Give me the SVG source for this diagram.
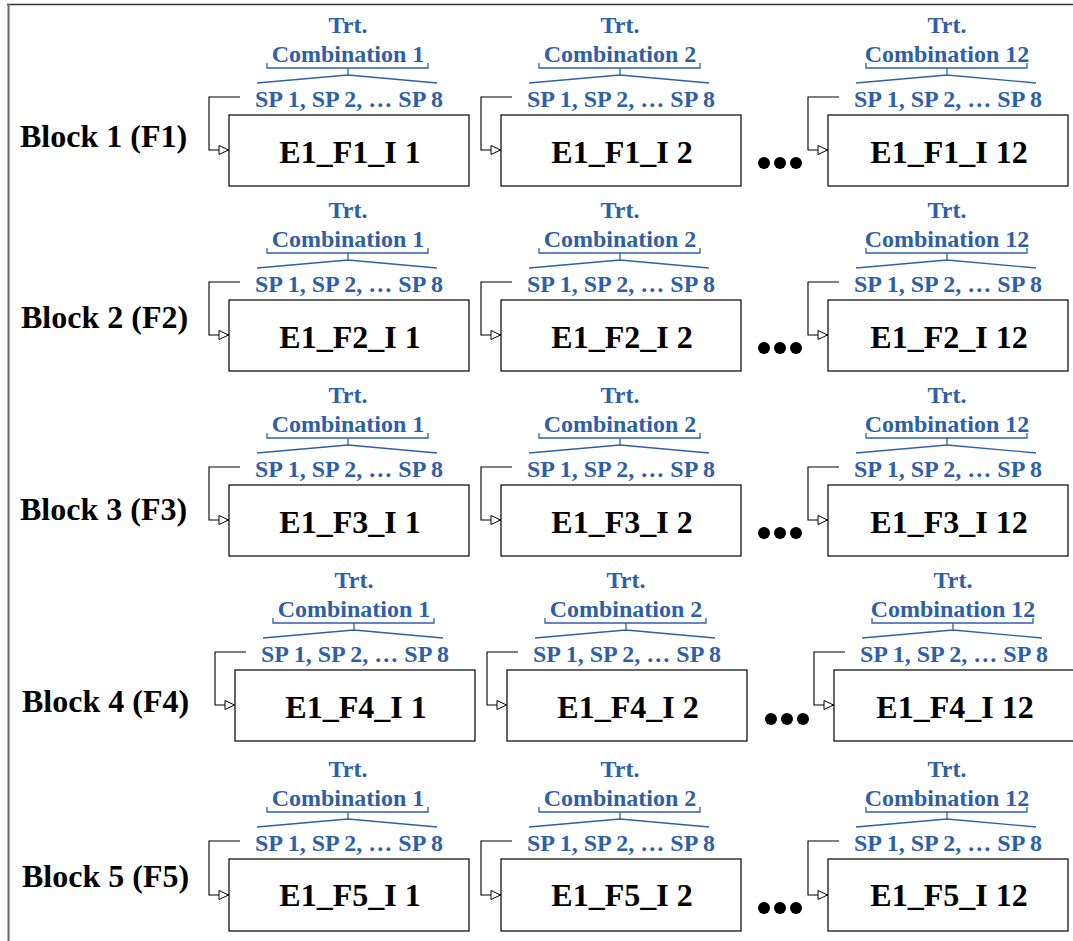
<svg xmlns="http://www.w3.org/2000/svg" width="1073" height="941" viewBox="0 0 1073 941">
<style>
.box{fill:#fff;stroke:#000;stroke-width:1.2}
.bt{font-family:"Liberation Serif","Times New Roman",serif;font-weight:bold;font-size:32px;fill:#000;text-anchor:middle}
.bl{font-family:"Liberation Serif","Times New Roman",serif;font-weight:bold;font-size:32px;fill:#000}
.lb{font-family:"Liberation Serif","Times New Roman",serif;font-weight:bold;font-size:24px;fill:#2f5fa8;text-anchor:middle}
.br{fill:none;stroke:#2f5fa8;stroke-width:1.3}
.cn{fill:none;stroke:#000;stroke-width:1.1}
</style>
<defs>
<marker id="arr" markerUnits="userSpaceOnUse" markerWidth="13" markerHeight="11" refX="11" refY="5" orient="auto">
<path d="M1,0.5 L10.5,5 L1,9.5 Z" fill="#fff" stroke="#000" stroke-width="1"/>
</marker>
<g id="lbl">
<path class="br" d="M38,-52 V-47 H199 V-52 M119,-47 V-40 M28,-32 L119,-40 L208,-32"/>
</g>
</defs>
<g id="frame">
<line x1="7" y1="4.5" x2="1073" y2="4.5" stroke="#333" stroke-width="1.5"/>
<line x1="8.5" y1="4" x2="8.5" y2="941" stroke="#666" stroke-width="2"/>
</g>
<g id="block-labels">
<text class="bl" x="20" y="147">Block 1 (F1)</text>
<text class="bl" x="21" y="328">Block 2 (F2)</text>
<text class="bl" x="20" y="520">Block 3 (F3)</text>
<text class="bl" x="22" y="712">Block 4 (F4)</text>
<text class="bl" x="22" y="887">Block 5 (F5)</text>
</g>
<g id="connectors">
<polyline class="cn" marker-end="url(#arr)" points="240,97 209,97 209,150 229,150"/>
<polyline class="cn" marker-end="url(#arr)" points="512,97 481,97 481,150 501,150"/>
<polyline class="cn" marker-end="url(#arr)" points="839,97 808,97 808,150 828,150"/>
<polyline class="cn" marker-end="url(#arr)" points="240,282 209,282 209,335 229,335"/>
<polyline class="cn" marker-end="url(#arr)" points="512,282 481,282 481,335 501,335"/>
<polyline class="cn" marker-end="url(#arr)" points="839,282 808,282 808,335 828,335"/>
<polyline class="cn" marker-end="url(#arr)" points="240,467 209,467 209,520 229,520"/>
<polyline class="cn" marker-end="url(#arr)" points="512,467 481,467 481,520 501,520"/>
<polyline class="cn" marker-end="url(#arr)" points="839,467 808,467 808,520 828,520"/>
<polyline class="cn" marker-end="url(#arr)" points="246,652 215,652 215,705 235,705"/>
<polyline class="cn" marker-end="url(#arr)" points="518,652 487,652 487,705 507,705"/>
<polyline class="cn" marker-end="url(#arr)" points="845,652 814,652 814,705 834,705"/>
<polyline class="cn" marker-end="url(#arr)" points="240,841 209,841 209,895 229,895"/>
<polyline class="cn" marker-end="url(#arr)" points="512,841 481,841 481,895 501,895"/>
<polyline class="cn" marker-end="url(#arr)" points="839,841 808,841 808,895 828,895"/>
</g>
<g id="dots" fill="#000">
<circle cx="764" cy="163" r="6"/><circle cx="780" cy="163" r="6"/><circle cx="796" cy="163" r="6"/>
<circle cx="764" cy="348" r="6"/><circle cx="780" cy="348" r="6"/><circle cx="796" cy="348" r="6"/>
<circle cx="764" cy="533" r="6"/><circle cx="780" cy="533" r="6"/><circle cx="796" cy="533" r="6"/>
<circle cx="771" cy="719" r="6"/><circle cx="787" cy="719" r="6"/><circle cx="803" cy="719" r="6"/>
<circle cx="764" cy="908" r="6"/><circle cx="780" cy="908" r="6"/><circle cx="796" cy="908" r="6"/>
</g>

<g id="n-F1-1" transform="translate(229,115)"><use href="#lbl"/><text class="lb" x="119" y="-82">Trt.</text><text class="lb" x="119" y="-53">Combination 1</text><text class="lb" x="120" y="-8">SP 1, SP 2, … SP 8</text><rect class="box" x="0" y="0" width="240" height="71"/><text class="bt" x="121" y="48">E1_F1_I 1</text></g>
<g id="n-F1-2" transform="translate(501,115)"><use href="#lbl"/><text class="lb" x="119" y="-82">Trt.</text><text class="lb" x="119" y="-53">Combination 2</text><text class="lb" x="120" y="-8">SP 1, SP 2, … SP 8</text><rect class="box" x="0" y="0" width="240" height="71"/><text class="bt" x="121" y="48">E1_F1_I 2</text></g>
<g id="n-F1-12" transform="translate(828,115)"><use href="#lbl"/><text class="lb" x="119" y="-82">Trt.</text><text class="lb" x="119" y="-53">Combination 12</text><text class="lb" x="120" y="-8">SP 1, SP 2, … SP 8</text><rect class="box" x="0" y="0" width="240" height="71"/><text class="bt" x="121" y="48">E1_F1_I 12</text></g>

<g id="n-F2-1" transform="translate(229,300)"><use href="#lbl"/><text class="lb" x="119" y="-82">Trt.</text><text class="lb" x="119" y="-53">Combination 1</text><text class="lb" x="120" y="-8">SP 1, SP 2, … SP 8</text><rect class="box" x="0" y="0" width="240" height="71"/><text class="bt" x="121" y="48">E1_F2_I 1</text></g>
<g id="n-F2-2" transform="translate(501,300)"><use href="#lbl"/><text class="lb" x="119" y="-82">Trt.</text><text class="lb" x="119" y="-53">Combination 2</text><text class="lb" x="120" y="-8">SP 1, SP 2, … SP 8</text><rect class="box" x="0" y="0" width="240" height="71"/><text class="bt" x="121" y="48">E1_F2_I 2</text></g>
<g id="n-F2-12" transform="translate(828,300)"><use href="#lbl"/><text class="lb" x="119" y="-82">Trt.</text><text class="lb" x="119" y="-53">Combination 12</text><text class="lb" x="120" y="-8">SP 1, SP 2, … SP 8</text><rect class="box" x="0" y="0" width="240" height="71"/><text class="bt" x="121" y="48">E1_F2_I 12</text></g>

<g id="n-F3-1" transform="translate(229,485)"><use href="#lbl"/><text class="lb" x="119" y="-82">Trt.</text><text class="lb" x="119" y="-53">Combination 1</text><text class="lb" x="120" y="-8">SP 1, SP 2, … SP 8</text><rect class="box" x="0" y="0" width="240" height="71"/><text class="bt" x="121" y="48">E1_F3_I 1</text></g>
<g id="n-F3-2" transform="translate(501,485)"><use href="#lbl"/><text class="lb" x="119" y="-82">Trt.</text><text class="lb" x="119" y="-53">Combination 2</text><text class="lb" x="120" y="-8">SP 1, SP 2, … SP 8</text><rect class="box" x="0" y="0" width="240" height="71"/><text class="bt" x="121" y="48">E1_F3_I 2</text></g>
<g id="n-F3-12" transform="translate(828,485)"><use href="#lbl"/><text class="lb" x="119" y="-82">Trt.</text><text class="lb" x="119" y="-53">Combination 12</text><text class="lb" x="120" y="-8">SP 1, SP 2, … SP 8</text><rect class="box" x="0" y="0" width="240" height="71"/><text class="bt" x="121" y="48">E1_F3_I 12</text></g>

<g id="n-F4-1" transform="translate(235,670)"><use href="#lbl"/><text class="lb" x="119" y="-82">Trt.</text><text class="lb" x="119" y="-53">Combination 1</text><text class="lb" x="120" y="-8">SP 1, SP 2, … SP 8</text><rect class="box" x="0" y="0" width="240" height="71"/><text class="bt" x="121" y="48">E1_F4_I 1</text></g>
<g id="n-F4-2" transform="translate(507,670)"><use href="#lbl"/><text class="lb" x="119" y="-82">Trt.</text><text class="lb" x="119" y="-53">Combination 2</text><text class="lb" x="120" y="-8">SP 1, SP 2, … SP 8</text><rect class="box" x="0" y="0" width="240" height="71"/><text class="bt" x="121" y="48">E1_F4_I 2</text></g>
<g id="n-F4-12" transform="translate(834,670)"><use href="#lbl"/><text class="lb" x="119" y="-82">Trt.</text><text class="lb" x="119" y="-53">Combination 12</text><text class="lb" x="120" y="-8">SP 1, SP 2, … SP 8</text><rect class="box" x="0" y="0" width="240" height="71"/><text class="bt" x="121" y="48">E1_F4_I 12</text></g>

<g id="n-F5-1" transform="translate(229,859)"><use href="#lbl"/><text class="lb" x="119" y="-82">Trt.</text><text class="lb" x="119" y="-53">Combination 1</text><text class="lb" x="120" y="-8">SP 1, SP 2, … SP 8</text><rect class="box" x="0" y="0" width="240" height="72"/><text class="bt" x="121" y="47">E1_F5_I 1</text></g>
<g id="n-F5-2" transform="translate(501,859)"><use href="#lbl"/><text class="lb" x="119" y="-82">Trt.</text><text class="lb" x="119" y="-53">Combination 2</text><text class="lb" x="120" y="-8">SP 1, SP 2, … SP 8</text><rect class="box" x="0" y="0" width="240" height="72"/><text class="bt" x="121" y="47">E1_F5_I 2</text></g>
<g id="n-F5-12" transform="translate(828,859)"><use href="#lbl"/><text class="lb" x="119" y="-82">Trt.</text><text class="lb" x="119" y="-53">Combination 12</text><text class="lb" x="120" y="-8">SP 1, SP 2, … SP 8</text><rect class="box" x="0" y="0" width="240" height="72"/><text class="bt" x="121" y="47">E1_F5_I 12</text></g>
</svg>
